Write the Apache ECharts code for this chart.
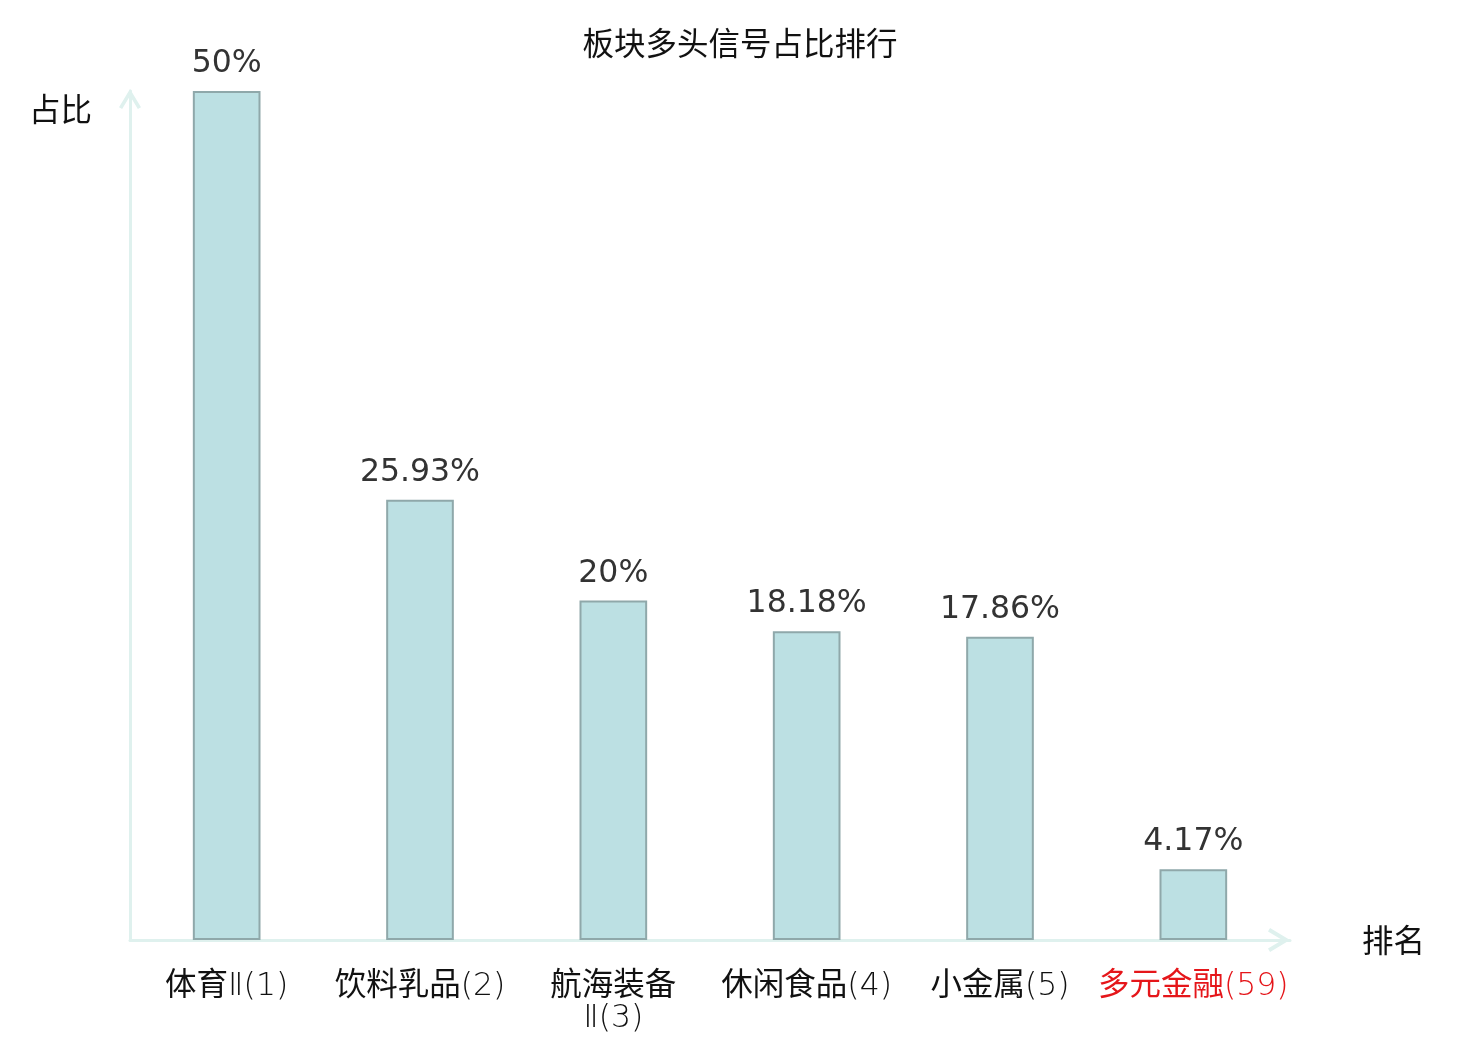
<!DOCTYPE html>
<html>
<head>
<meta charset="utf-8">
<script src="https://cdn.jsdelivr.net/npm/echarts@6/dist/echarts.min.js"></script>
<style>html,body{margin:0;padding:0;background:#fff}#c{width:1480px;height:1040px}</style>
</head>
<body>
<div id="c"></div>
<script>
var titleText = '板块多头信号占比排行';
var sectorNames = ['体育Ⅱ', '饮料乳品', '航海装备\nⅡ', '休闲食品', '小金属', '多元金融'];
var sectorRanks = [1, 2, 3, 4, 5, 59];
var shareValues = [50, 25.93, 20, 18.18, 17.86, 4.17];
var highlightIndex = 5;

var chart = echarts.init(document.getElementById('c'));
var cjk = '"Noto Sans CJK SC", sans-serif';
var chevron = 'path://M0,20 L12,0 L24,20 L20.57,22.06 L12,7.77 L3.43,22.06 Z';
var fs = 31.5;

var categories = sectorNames.map(function (n, i) {
  var item = { value: n + '(' + sectorRanks[i] + ')' };
  if (i === highlightIndex) item.textStyle = { color: '#e5161a' };
  return item;
});

// split label text into CJK runs and Latin runs (different fonts, like the reference)
function richLabel(text) {
  return text.split('\n').map(function (line) {
    var out = '', cur = '', curType = null;
    for (var k = 0; k < line.length; k++) {
      var ch = line[k];
      var t = ch.charCodeAt(0) >= 0x2E80 ? 'c' : 'l';
      if (t !== curType && cur) { out += '{' + curType + '|' + cur + '}'; cur = ''; }
      curType = t; cur += ch;
    }
    if (cur) out += '{' + curType + '|' + cur + '}';
    return out;
  }).join('\n');
}

chart.setOption({
  animation: false,
  backgroundColor: '#ffffff',
  title: {
    text: titleText,
    left: 'center',
    top: 22,
    textStyle: { fontFamily: cjk, fontSize: fs, fontWeight: 'normal', color: '#111' }
  },
  grid: { left: 130, right: 190, top: 91, bottom: 100, containLabel: false },
  xAxis: {
    type: 'category',
    data: categories,
    name: '排名',
    nameLocation: 'end',
    nameGap: 72,
    nameTextStyle: { fontFamily: cjk, fontSize: fs, color: '#111' },
    axisLine: {
      show: true,
      lineStyle: { color: '#dff1ee', width: 3 },
      symbol: ['none', chevron],
      symbolSize: [24, 22],
      symbolOffset: [0, -11]
    },
    axisTick: { show: false },
    axisLabel: {
      interval: 0,
      margin: 27,
      fontSize: fs,
      color: '#111',
      lineHeight: 32,
      formatter: richLabel,
      rich: {
        c: { fontFamily: cjk, fontWeight: 'normal', fontSize: fs, lineHeight: 32 },
        l: { fontFamily: '"DejaVu Sans", sans-serif', fontWeight: 200, fontSize: fs, lineHeight: 32, padding: [8, 0, 0, 0] }
      }
    },
    splitLine: { show: false }
  },
  yAxis: {
    type: 'value',
    min: 0,
    max: 50,
    name: '占比',
    nameLocation: 'end',
    nameGap: -34,
    nameTextStyle: {
      fontFamily: cjk, fontSize: fs, color: '#111',
      align: 'right', verticalAlign: 'bottom', padding: [0, 38, 0, 0]
    },
    axisLine: {
      show: true,
      lineStyle: { color: '#dff1ee', width: 3 },
      symbol: ['none', chevron],
      symbolSize: [22, 21],
      symbolOffset: [0, -8]
    },
    axisTick: { show: false },
    axisLabel: { show: false },
    splitLine: { show: false }
  },
  series: [{
    type: 'bar',
    data: shareValues,
    barWidth: '35%',
    itemStyle: { color: '#bce0e3', borderColor: '#8fa8aa', borderWidth: 2 },
    label: {
      show: true,
      position: 'top',
      distance: 11,
      color: '#333',
      fontSize: fs,
      fontFamily: '"DejaVu Sans", sans-serif',
      formatter: function (p) { return p.value + '%'; }
    }
  }]
});
</script>
</body>
</html>
